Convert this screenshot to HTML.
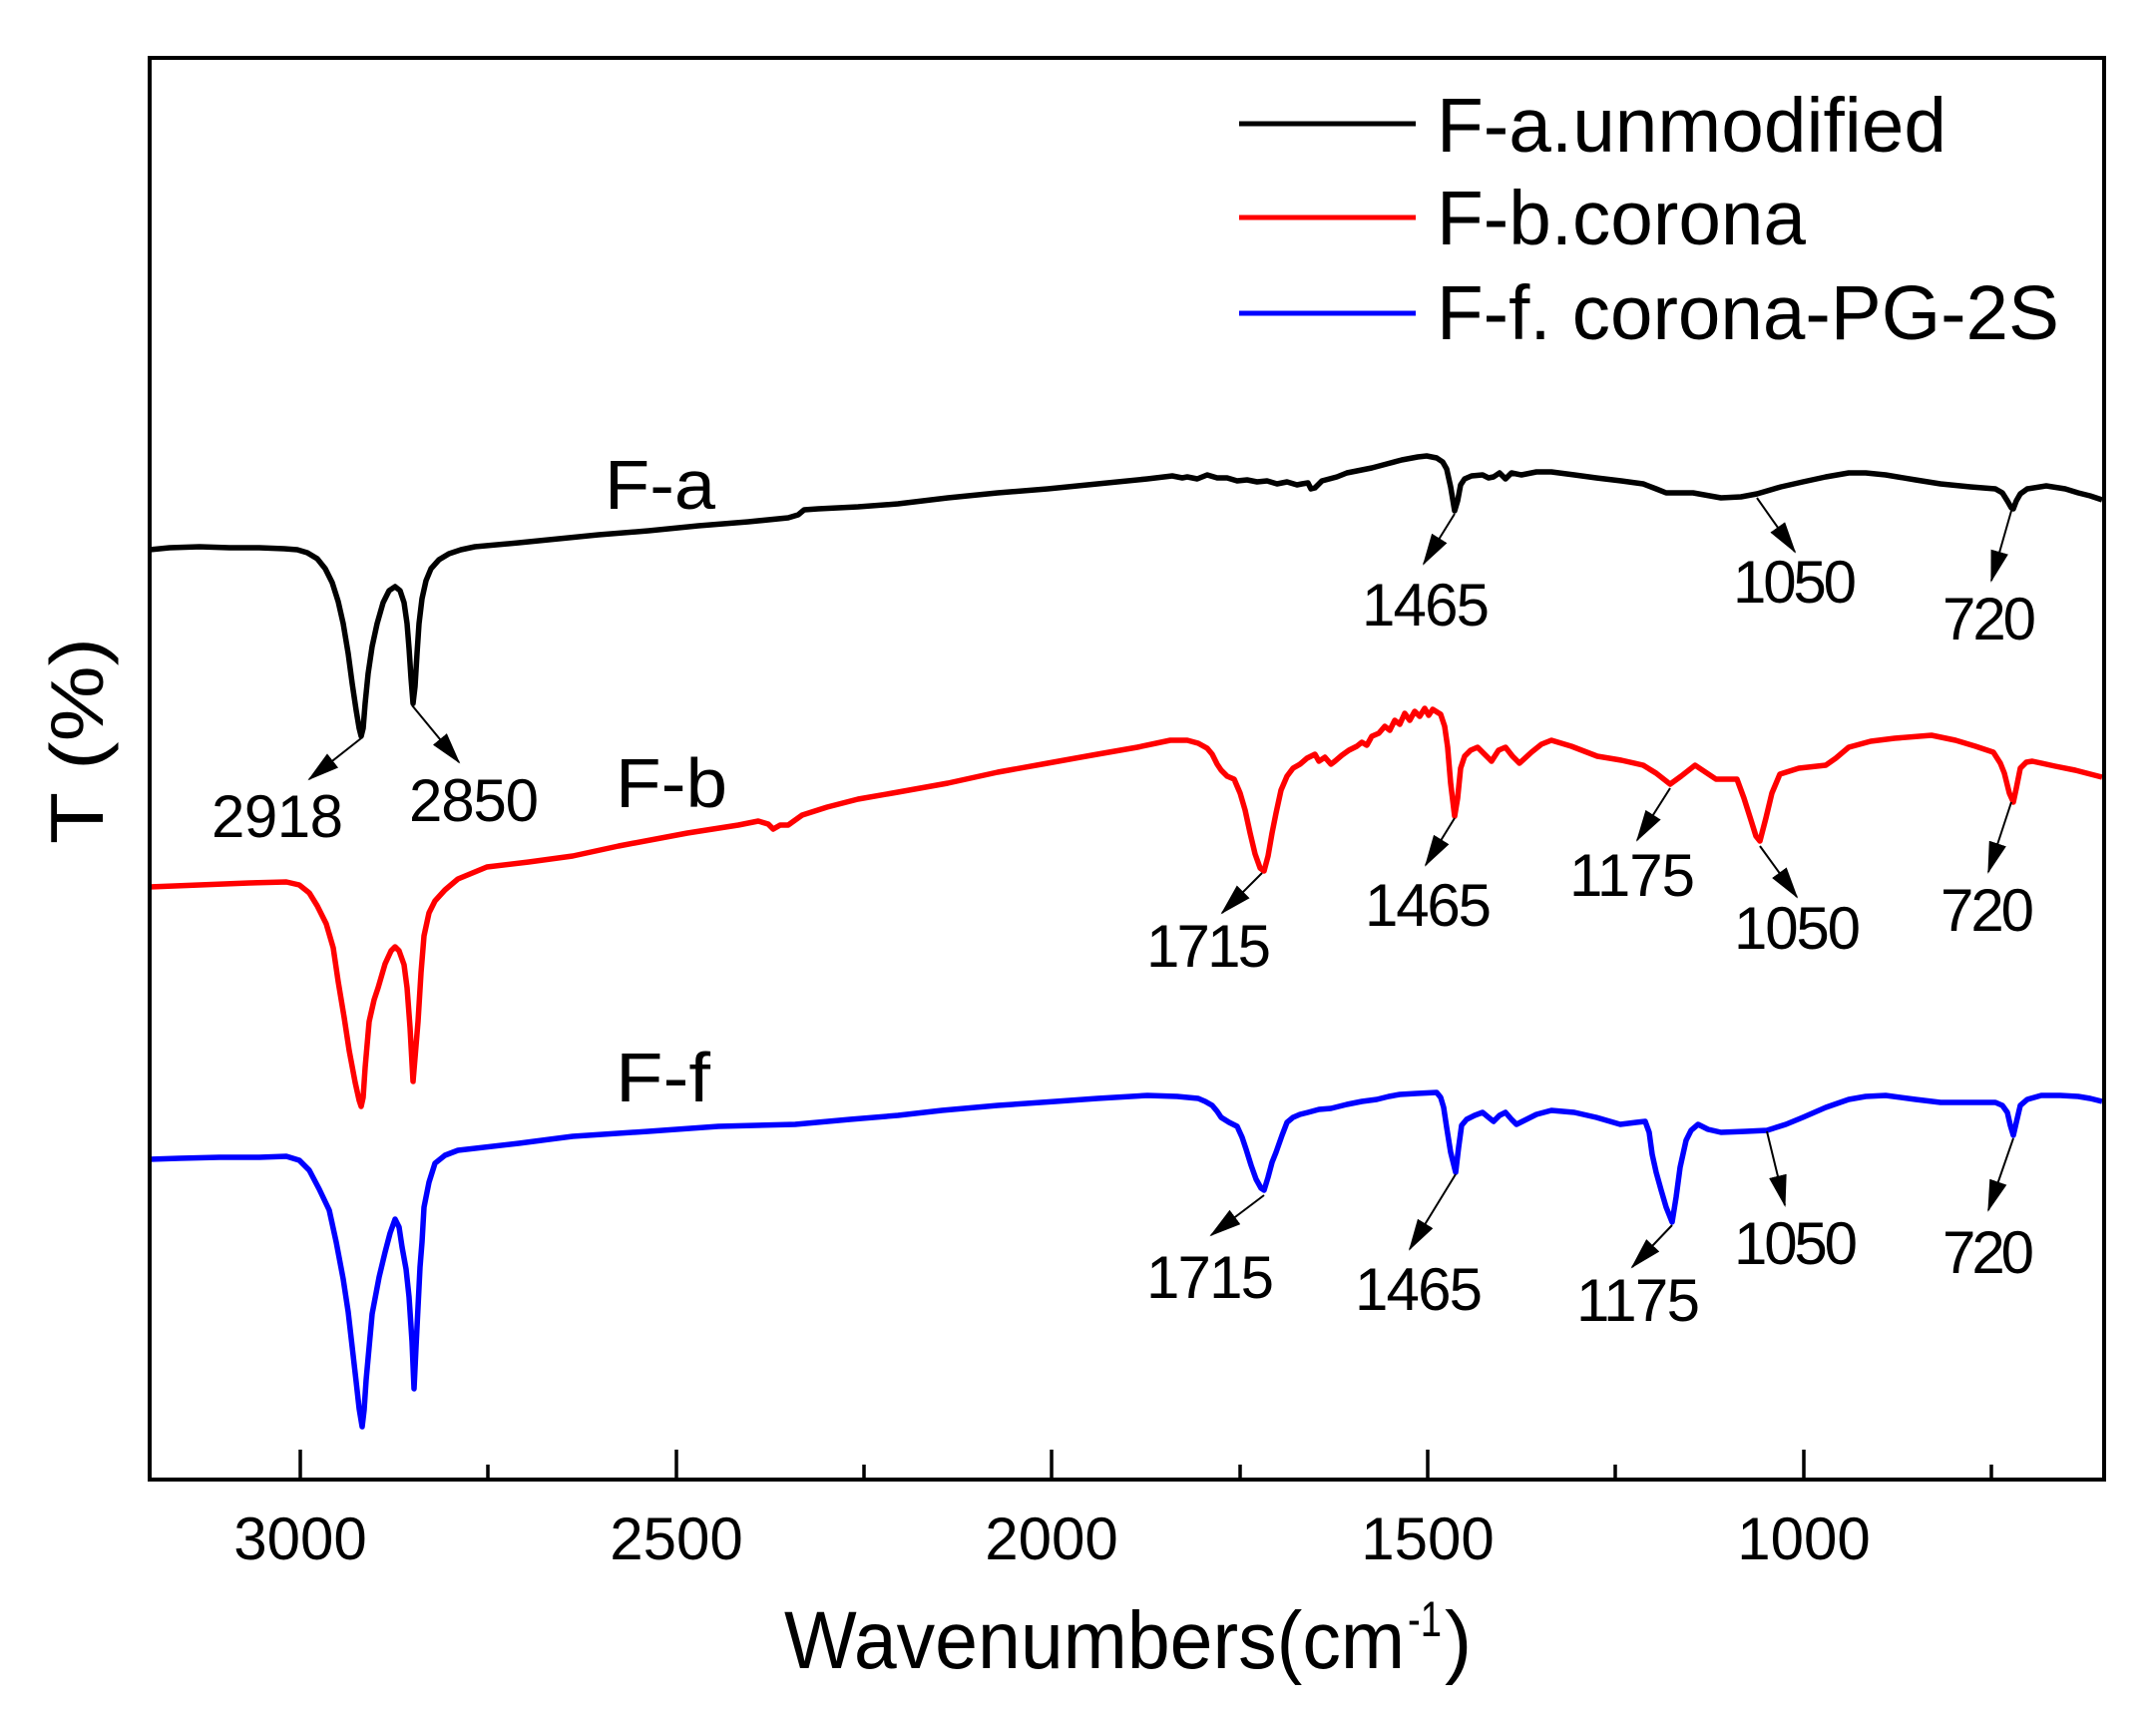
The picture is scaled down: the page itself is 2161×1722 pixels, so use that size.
<!DOCTYPE html>
<html>
<head>
<meta charset="utf-8">
<style>
html,body{margin:0;padding:0;background:#fff;}
svg{display:block;}
text{font-family:"Liberation Sans",Arial,sans-serif;fill:#000;}
</style>
</head>
<body>
<svg width="2161" height="1722" viewBox="0 0 2161 1722" xmlns="http://www.w3.org/2000/svg">
<defs>
<marker id="ah" markerWidth="32" markerHeight="18" refX="30" refY="9" orient="auto" markerUnits="userSpaceOnUse">
<path d="M0,0 L32,9 L0,18 z" fill="#000"/>
</marker>
</defs>
<rect x="0" y="0" width="2161" height="1722" fill="#fff"/>

<!-- Curves -->
<polyline fill="none" stroke="#000" stroke-width="5.5" stroke-linejoin="round" points="150,551 170,549 200,548 230,549 260,549 285,550 298,551 308,554 318,560 326,570 333,584 339,603 344,625 349,655 353,685 357,712 360,730 362,738 364,730 366,705 369,675 373,648 378,625 384,604 390,592 396,588 401,592 405,604 408,625 410,650 412,680 414,705 416,688 418,655 420,625 423,600 427,582 432,570 440,561 450,555 462,551 476,548 520,544 560,540 600,536 650,532 700,527 750,523 790,519 800,516 806,511 820,510 860,508 900,505 950,499 1000,494 1050,490 1100,485 1150,480 1175,477 1185,479 1190,478 1200,480 1210,476 1220,479 1230,479 1240,482 1250,481 1260,483 1270,482 1280,485 1290,483 1300,486 1305,485 1311,484 1314,490 1318,489 1325,482 1340,478 1350,474 1360,472 1375,469 1390,465 1405,461 1421,458 1430,457 1440,459 1446,463 1450,470 1454,488 1458,512 1461,502 1464,486 1468,480 1475,477 1486,476 1492,479 1497,478 1503,474 1509,480 1515,474 1525,476 1540,473 1555,473 1578,476 1600,479 1625,482 1647,485 1660,490 1670,494 1697,494 1725,499 1745,498 1761,495 1785,488 1807,483 1830,478 1853,474 1870,474 1890,476 1920,481 1945,485 1975,488 2000,490 2007,494 2012,502 2016,509 2018,510 2021,502 2025,495 2032,490 2051,487 2070,490 2083,494 2095,497 2107,501"/>

<polyline fill="none" stroke="#ff0000" stroke-width="5.5" stroke-linejoin="round" points="150,889 200,887 250,885 287,884 300,887 310,895 318,908 327,926 334,950 339,984 345,1020 350,1053 356,1085 360,1103 362,1109 364,1100 366,1070 370,1024 375,1002 379,990 386,966 392,953 396,949 400,953 405,967 408,990 411,1030 414,1084 416,1060 419,1024 422,975 425,938 430,915 436,903 446,892 459,881 488,869 530,864 574,858 620,848 689,835 740,827 760,823 770,826 775,831 782,827 790,827 797,822 804,817 829,809 860,801 900,794 950,785 1000,774 1050,765 1100,756 1140,749 1173,742 1190,742 1201,745 1210,750 1215,756 1220,766 1224,772 1230,778 1237,781 1243,795 1248,812 1253,835 1258,856 1263,870 1267,873 1271,858 1275,835 1279,815 1284,792 1290,778 1296,770 1303,766 1310,760 1318,756 1322,763 1328,759 1334,766 1338,763 1345,757 1352,752 1360,748 1365,744 1370,747 1375,738 1382,735 1388,728 1393,732 1398,722 1403,726 1408,715 1413,722 1418,713 1423,718 1428,710 1432,717 1436,711 1444,716 1448,728 1451,749 1454,785 1458,818 1461,800 1464,770 1468,758 1474,752 1481,749 1488,756 1495,763 1502,752 1509,749 1516,758 1523,765 1535,754 1545,746 1555,742 1575,748 1601,758 1625,762 1647,767 1660,775 1674,786 1685,778 1699,767 1708,773 1720,781 1741,781 1748,800 1755,822 1760,838 1764,843 1770,820 1776,795 1784,776 1803,770 1830,767 1840,760 1853,749 1875,743 1899,740 1936,737 1960,742 1980,748 1998,754 2005,765 2009,775 2014,795 2018,804 2021,790 2025,770 2031,764 2037,763 2060,768 2080,772 2107,779"/>

<polyline fill="none" stroke="#0000ff" stroke-width="5.5" stroke-linejoin="round" points="150,1162 180,1161 220,1160 260,1160 287,1159 300,1163 310,1173 320,1192 330,1213 337,1245 344,1282 349,1315 353,1350 357,1385 360,1412 363,1430 365,1413 367,1383 370,1350 373,1317 380,1280 386,1255 391,1236 396,1222 400,1230 403,1250 407,1272 410,1300 413,1345 415,1392 417,1350 419,1310 421,1270 423,1245 425,1210 430,1185 436,1166 446,1158 459,1153 520,1146 574,1139 650,1134 720,1129 797,1127 852,1122 900,1118 944,1113 1000,1108 1058,1104 1100,1101 1150,1098 1180,1099 1201,1101 1208,1104 1215,1108 1220,1114 1224,1120 1232,1125 1240,1129 1245,1140 1249,1152 1254,1168 1259,1182 1264,1191 1267,1193 1271,1180 1275,1165 1279,1155 1285,1138 1290,1125 1296,1120 1303,1117 1311,1115 1322,1112 1334,1111 1350,1107 1365,1104 1380,1102 1392,1099 1403,1097 1420,1096 1440,1095 1444,1100 1447,1110 1450,1130 1454,1155 1459,1175 1462,1150 1465,1128 1470,1122 1478,1118 1486,1115 1492,1120 1497,1124 1503,1118 1509,1115 1515,1122 1520,1127 1530,1122 1540,1117 1555,1113 1578,1115 1600,1120 1624,1127 1640,1125 1649,1124 1653,1135 1656,1157 1660,1175 1665,1193 1670,1210 1676,1225 1680,1200 1684,1170 1690,1143 1695,1133 1702,1127 1712,1132 1725,1135 1750,1134 1771,1133 1790,1127 1807,1120 1830,1110 1853,1102 1870,1099 1890,1098 1920,1102 1945,1105 1975,1105 2000,1105 2007,1108 2012,1115 2015,1128 2018,1138 2021,1125 2025,1108 2032,1102 2046,1098 2065,1098 2083,1099 2095,1101 2107,1104"/>

<!-- Axes frame -->
<rect x="150" y="58" width="1959" height="1425" fill="none" stroke="#000" stroke-width="4"/>

<!-- Ticks -->
<g stroke="#000" stroke-width="3.5">
<line x1="301" y1="1483" x2="301" y2="1453"/>
<line x1="678" y1="1483" x2="678" y2="1453"/>
<line x1="1054" y1="1483" x2="1054" y2="1453"/>
<line x1="1431" y1="1483" x2="1431" y2="1453"/>
<line x1="1808" y1="1483" x2="1808" y2="1453"/>
<line x1="489" y1="1483" x2="489" y2="1468"/>
<line x1="866" y1="1483" x2="866" y2="1468"/>
<line x1="1243" y1="1483" x2="1243" y2="1468"/>
<line x1="1619" y1="1483" x2="1619" y2="1468"/>
<line x1="1996" y1="1483" x2="1996" y2="1468"/>
</g>

<!-- Tick labels -->
<g font-size="60" text-anchor="middle">
<text x="301" y="1563">3000</text>
<text x="678" y="1563">2500</text>
<text x="1054" y="1563">2000</text>
<text x="1431" y="1563">1500</text>
<text x="1808" y="1563">1000</text>
</g>

<!-- Axis titles -->
<text x="786" y="1672" font-size="82" textLength="622" lengthAdjust="spacingAndGlyphs">Wavenumbers(cm</text>
<text x="1411" y="1640" font-size="50" textLength="34" lengthAdjust="spacingAndGlyphs">-1</text>
<text x="1448" y="1672" font-size="82">)</text>
<text transform="translate(103,846) rotate(-90)" font-size="75" textLength="207" lengthAdjust="spacingAndGlyphs">T (%)</text>

<!-- Legend -->
<line x1="1242" y1="124" x2="1419" y2="124" stroke="#000" stroke-width="5"/>
<line x1="1242" y1="218" x2="1419" y2="218" stroke="#ff0000" stroke-width="5"/>
<line x1="1242" y1="314" x2="1419" y2="314" stroke="#0000ff" stroke-width="5"/>
<text x="1440" y="152" font-size="77" textLength="511" lengthAdjust="spacingAndGlyphs">F-a.unmodified</text>
<text x="1440" y="245" font-size="77" textLength="370" lengthAdjust="spacingAndGlyphs">F-b.corona</text>
<text x="1440" y="340" font-size="77" textLength="624" lengthAdjust="spacingAndGlyphs">F-f. corona-PG-2S</text>

<!-- Curve labels -->
<text x="606" y="510" font-size="70" textLength="111" lengthAdjust="spacingAndGlyphs">F-a</text>
<text x="617" y="809" font-size="70" textLength="112" lengthAdjust="spacingAndGlyphs">F-b</text>
<text x="617" y="1104" font-size="70" textLength="95" lengthAdjust="spacingAndGlyphs">F-f</text>

<!-- Peak annotations -->
<g font-size="60" lengthAdjust="spacingAndGlyphs">
<text x="212" y="839" textLength="132">2918</text>
<text x="410" y="823" textLength="130">2850</text>
<text x="1365" y="627" textLength="128">1465</text>
<text x="1737" y="604" textLength="124">1050</text>
<text x="1947" y="641" textLength="94">720</text>

<text x="1149" y="969" textLength="125">1715</text>
<text x="1368" y="928" textLength="127">1465</text>
<text x="1573" y="898" textLength="126">1175</text>
<text x="1738" y="951" textLength="127">1050</text>
<text x="1945" y="933" textLength="94">720</text>

<text x="1149" y="1301" textLength="128">1715</text>
<text x="1358" y="1313" textLength="128">1465</text>
<text x="1580" y="1324" textLength="124">1175</text>
<text x="1738" y="1267" textLength="124">1050</text>
<text x="1947" y="1276" textLength="92">720</text>
</g>

<!-- Arrows -->
<g stroke="#000" stroke-width="2" marker-end="url(#ah)">
<line x1="362" y1="740" x2="310" y2="781"/>
<line x1="413" y1="707" x2="460" y2="764"/>
<line x1="1458" y1="515" x2="1427" y2="565"/>
<line x1="1761" y1="499" x2="1799" y2="553"/>
<line x1="2016" y1="512" x2="1996" y2="582"/>

<line x1="1265" y1="875" x2="1225" y2="915"/>
<line x1="1458" y1="820" x2="1429" y2="867"/>
<line x1="1674" y1="790" x2="1641" y2="842"/>
<line x1="1764" y1="848" x2="1801" y2="899"/>
<line x1="2016" y1="804" x2="1993" y2="874"/>

<line x1="1267" y1="1198" x2="1214" y2="1238"/>
<line x1="1459" y1="1177" x2="1413" y2="1252"/>
<line x1="1676" y1="1228" x2="1636" y2="1270"/>
<line x1="1771" y1="1134" x2="1789" y2="1208"/>
<line x1="2018" y1="1141" x2="1993" y2="1213"/>
</g>
</svg>
</body>
</html>
